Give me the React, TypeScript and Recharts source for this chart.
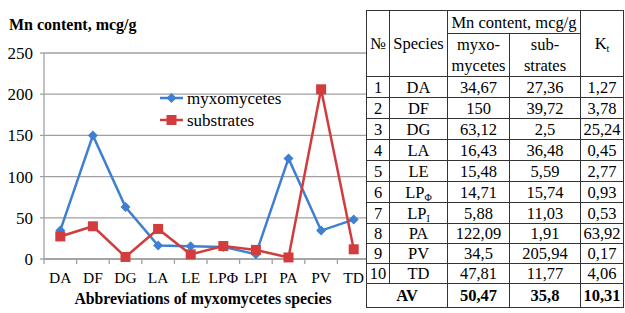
import React from 'react';
import { LineChart, Line, XAxis, YAxis, CartesianGrid, Legend } from 'recharts';

const categories = ['DA', 'DF', 'DG', 'LA', 'LE', 'LPΦ', 'LPI', 'PA', 'PV', 'TD'];
const myxomycetes = [34.67, 150, 63.12, 16.43, 15.48, 14.71, 5.88, 122.09, 34.5, 47.81];
const substrates = [27.36, 39.72, 2.5, 36.48, 5.59, 15.74, 11.03, 1.91, 205.94, 11.77];
const yTicks = [0, 50, 100, 150, 200, 250];
const xBoundaries = [0, 1, 2, 3, 4, 5, 6, 7, 8, 9, 10];

const tableNo = ['1', '2', '3', '4', '5', '6', '7', '8', '9', '10'];
const tableSpecies = ['DA', 'DF', 'DG', 'LA', 'LE', 'LP|Φ', 'LP|I', 'PA', 'PV', 'TD'];
const tableMyxo = ['34,67', '150', '63,12', '16,43', '15,48', '14,71', '5,88', '122,09', '34,5', '47,81'];
const tableSubs = ['27,36', '39,72', '2,5', '36,48', '5,59', '15,74', '11,03', '1,91', '205,94', '11,77'];
const tableKt = ['1,27', '3,78', '25,24', '0,45', '2,77', '0,93', '0,53', '63,92', '0,17', '4,06'];
const tableAv = ['AV', '50,47', '35,8', '10,31'];

const BLUE = '#3F7FCF';
const RED = '#D23C3C';
const GRID = '#A0A0A0';
const FONT = 'Liberation Serif';

const data = categories.map((c, i) => ({
  x: i + 0.5,
  name: c,
  myxomycetes: myxomycetes[i],
  substrates: substrates[i],
}));

const CAT_W = 32.6;

const XTick = (props: any) => {
  const { x, y, payload } = props;
  const idx = payload.value;
  if (idx >= categories.length) return null;
  return (
    <text x={x + CAT_W / 2} y={y + 17} textAnchor="middle" fontFamily={FONT} fontSize={15.5} fill="#000">
      {categories[idx]}
    </text>
  );
};

const XTitle = (props: any) => {
  const { viewBox } = props;
  const cx = viewBox.x + viewBox.width / 2 - 4;
  return (
    <text x={cx} y={304} textAnchor="middle" fontFamily={FONT} fontWeight="bold" fontSize={15.8} fill="#000">
      Abbreviations of myxomycetes species
    </text>
  );
};

const Diamond = (props: any) => {
  const { cx, cy } = props;
  if (cx == null || cy == null) return null;
  return <path d={`M${cx},${cy - 5}L${cx + 5},${cy}L${cx},${cy + 5}L${cx - 5},${cy}Z`} fill={BLUE} />;
};

const Square = (props: any) => {
  const { cx, cy } = props;
  if (cx == null || cy == null) return null;
  return <rect x={cx - 5} y={cy - 5} width={10} height={10} fill={RED} />;
};

const LegendContent = () => (
  <svg width={140} height={46} style={{ display: 'block' }}>
    <line x1={2} y1={10} x2={25} y2={10} stroke={BLUE} strokeWidth={2.5} />
    <path d="M13.5,5L18.5,10L13.5,15L8.5,10Z" fill={BLUE} />
    <text x={29} y={16} fontFamily={FONT} fontSize={17} fill="#000">myxomycetes</text>
    <line x1={2} y1={32} x2={25} y2={32} stroke={RED} strokeWidth={2.5} />
    <rect x={8.5} y={27} width={10} height={10} fill={RED} />
    <text x={29} y={38} fontFamily={FONT} fontSize={17} fill="#000">substrates</text>
  </svg>
);

const cell: React.CSSProperties = {
  border: '1px solid #333',
  padding: 0,
  textAlign: 'center',
  verticalAlign: 'middle',
  lineHeight: '19px',
};

const renderSpecies = (s: string) => {
  if (s.includes('|')) {
    const [a, b] = s.split('|');
    return (
      <span>
        {a}
        <sub style={{ fontSize: 10, verticalAlign: '-3px', lineHeight: 0 }}>{b}</sub>
      </span>
    );
  }
  return s;
};

export default function App() {
  return (
    <div style={{ position: 'absolute', left: 0, top: 0, width: 625, height: 313, overflow: 'hidden', background: '#fff', fontFamily: FONT }}>
      <div style={{ position: 'absolute', left: 9, top: 15, fontFamily: FONT, fontWeight: 'bold', fontSize: 16, whiteSpace: 'nowrap', lineHeight: '20px' }}>
        Mn content, mcg/g
      </div>
      <LineChart width={625} height={313} data={data} margin={{ top: 53, right: 255, bottom: 0, left: 0 }}>
        <CartesianGrid horizontal vertical={false} stroke={GRID} strokeWidth={1.3} />
        <XAxis
          dataKey="x"
          type="number"
          domain={[0, 10]}
          ticks={xBoundaries}
          interval={0}
          height={54}
          tick={<XTick />}
          tickLine={{ stroke: GRID, strokeWidth: 1.3 }}
          tickSize={5}
          axisLine={{ stroke: GRID, strokeWidth: 1.3 }}
          label={<XTitle />}
        />
        <YAxis
          type="number"
          domain={[0, 250]}
          ticks={yTicks}
          width={44}
          tickSize={4}
          tickMargin={7}
          tick={{ fontFamily: FONT, fontSize: 17, fill: '#000' }}
          tickLine={{ stroke: GRID, strokeWidth: 1.3 }}
          axisLine={{ stroke: GRID, strokeWidth: 1.3 }}
        />
        <Legend
          content={<LegendContent />}
          layout="vertical"
          align="center"
          verticalAlign="middle"
          wrapperStyle={{ left: 158, top: 88, width: 140, height: 46 }}
        />
        <Line dataKey="myxomycetes" stroke={BLUE} strokeWidth={2.5} dot={<Diamond />} activeDot={false} isAnimationActive={false} />
        <Line dataKey="substrates" stroke={RED} strokeWidth={2.5} dot={<Square />} activeDot={false} isAnimationActive={false} />
      </LineChart>
      <table
        style={{
          position: 'absolute',
          left: 366,
          top: 10,
          width: 257,
          borderCollapse: 'collapse',
          background: '#fff',
          fontFamily: FONT,
          fontSize: 16.5,
          color: '#000',
          tableLayout: 'fixed',
        }}
      >
        <colgroup>
          <col style={{ width: 23 }} />
          <col style={{ width: 58 }} />
          <col style={{ width: 62 }} />
          <col style={{ width: 71 }} />
          <col style={{ width: 43 }} />
        </colgroup>
        <tbody>
          <tr style={{ height: 23 }}>
            <td rowSpan={2} style={cell}>№</td>
            <td rowSpan={2} style={cell}>Species</td>
            <td colSpan={2} style={cell}>Mn content, mcg/g</td>
            <td rowSpan={2} style={cell}>
              K<sub style={{ fontSize: 10, verticalAlign: '-3px', lineHeight: 0 }}>t</sub>
            </td>
          </tr>
          <tr style={{ height: 43 }}>
            <td style={{ ...cell, lineHeight: '21px' }}>myxo-<br />mycetes</td>
            <td style={{ ...cell, lineHeight: '21px' }}>sub-<br />strates</td>
          </tr>
          {tableNo.map((n, i) => (
            <tr key={n} style={{ height: i < 7 ? 21 : 20 }}>
              <td style={cell}>{n}</td>
              <td style={cell}>{renderSpecies(tableSpecies[i])}</td>
              <td style={cell}>{tableMyxo[i]}</td>
              <td style={cell}>{tableSubs[i]}</td>
              <td style={cell}>{tableKt[i]}</td>
            </tr>
          ))}
          <tr style={{ height: 24, fontWeight: 'bold' }}>
            <td colSpan={2} style={cell}>{tableAv[0]}</td>
            <td style={cell}>{tableAv[1]}</td>
            <td style={cell}>{tableAv[2]}</td>
            <td style={cell}>{tableAv[3]}</td>
          </tr>
        </tbody>
      </table>
    </div>
  );
}
